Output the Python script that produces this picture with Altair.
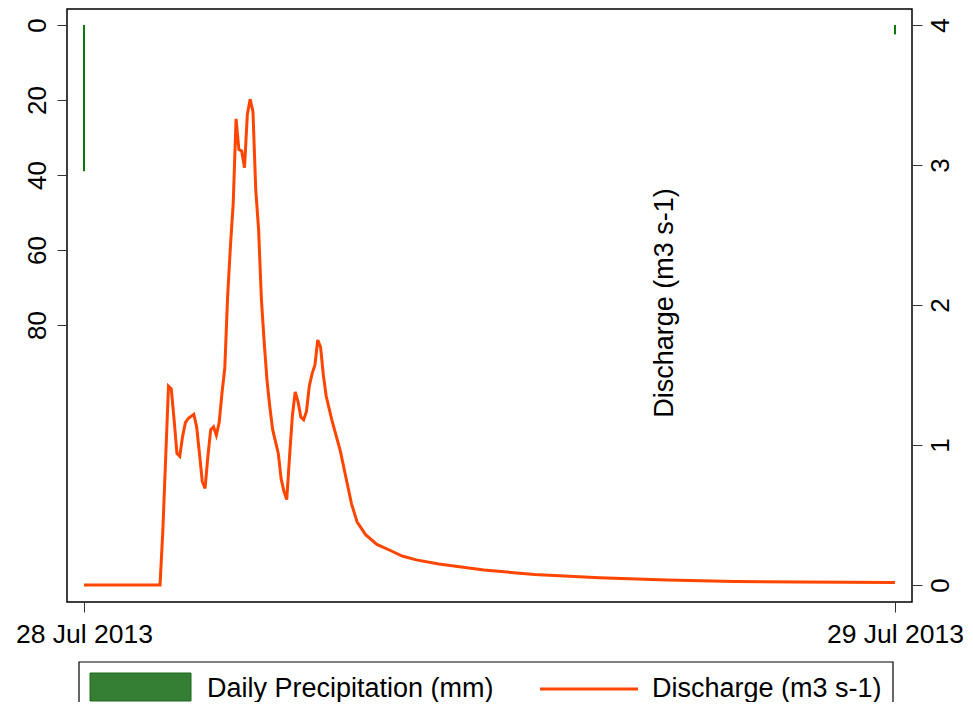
import altair as alt
import pandas as pd

FONT = "Liberation Sans"

# ---- data ----
precip_dates = ["2013-07-28T00:00:00", "2013-07-29T00:00:00"]
precip_mm = [39, 2.5]

q_times = [
    "2013-07-28T00:00", "2013-07-28T02:15", "2013-07-28T02:20", "2013-07-28T02:30",
    "2013-07-28T02:35", "2013-07-28T02:40", "2013-07-28T02:45", "2013-07-28T02:50",
    "2013-07-28T02:55", "2013-07-28T03:00", "2013-07-28T03:05", "2013-07-28T03:15",
    "2013-07-28T03:20", "2013-07-28T03:25", "2013-07-28T03:30", "2013-07-28T03:35",
    "2013-07-28T03:40", "2013-07-28T03:45", "2013-07-28T03:50", "2013-07-28T03:55",
    "2013-07-28T04:00", "2013-07-28T04:05", "2013-07-28T04:10", "2013-07-28T04:15",
    "2013-07-28T04:20", "2013-07-28T04:25", "2013-07-28T04:30", "2013-07-28T04:35",
    "2013-07-28T04:40", "2013-07-28T04:45", "2013-07-28T04:50", "2013-07-28T04:55",
    "2013-07-28T05:00", "2013-07-28T05:05", "2013-07-28T05:10", "2013-07-28T05:15",
    "2013-07-28T05:20", "2013-07-28T05:25", "2013-07-28T05:30", "2013-07-28T05:35",
    "2013-07-28T05:45", "2013-07-28T05:50", "2013-07-28T05:55", "2013-07-28T06:00",
    "2013-07-28T06:05", "2013-07-28T06:10", "2013-07-28T06:15", "2013-07-28T06:20",
    "2013-07-28T06:25", "2013-07-28T06:30", "2013-07-28T06:35", "2013-07-28T06:40",
    "2013-07-28T06:45", "2013-07-28T06:50", "2013-07-28T06:55", "2013-07-28T07:00",
    "2013-07-28T07:05", "2013-07-28T07:10", "2013-07-28T07:20", "2013-07-28T07:35",
    "2013-07-28T07:45", "2013-07-28T07:55", "2013-07-28T08:05", "2013-07-28T08:20",
    "2013-07-28T08:40", "2013-07-28T09:05", "2013-07-28T09:25", "2013-07-28T09:50",
    "2013-07-28T10:30", "2013-07-28T11:50", "2013-07-28T13:20", "2013-07-28T15:15",
    "2013-07-28T17:15", "2013-07-28T19:15", "2013-07-28T21:10", "2013-07-29T00:00",
]
q_values = [
    0.0, 0.0, 0.39, 1.42,
    1.40, 1.18, 0.94, 0.92,
    1.06, 1.16, 1.19, 1.22,
    1.13, 0.94, 0.74, 0.69,
    0.92, 1.11, 1.13, 1.07,
    1.16, 1.37, 1.55, 2.06,
    2.42, 2.73, 3.33, 3.11,
    3.10, 2.98, 3.36, 3.47,
    3.38, 2.82, 2.54, 2.04,
    1.73, 1.46, 1.27, 1.11,
    0.94, 0.76, 0.67, 0.61,
    0.92, 1.21, 1.38, 1.31,
    1.20, 1.18, 1.24, 1.42,
    1.51, 1.57, 1.75, 1.70,
    1.50, 1.35, 1.18, 0.96,
    0.77, 0.58, 0.45, 0.36,
    0.29, 0.245, 0.207, 0.18,
    0.15, 0.107, 0.076, 0.052,
    0.036, 0.026, 0.021, 0.019,
]

legend_labels = ["Daily Precipitation (mm)", "Discharge (m3 s-1)"]
axis_title_right = "Discharge (m3 s-1)"

precip_df = pd.DataFrame({"date": precip_dates, "precip": precip_mm, "base": [0] * len(precip_mm)})
q_df = pd.DataFrame({"date": q_times, "q": q_values})
dummy = pd.DataFrame({"a": [0]})

x_scale = alt.Scale(
    domain=[alt.DateTime(year=2013, month=7, date=27, hours=23, minutes=29, seconds=49),
            alt.DateTime(year=2013, month=7, date=29, hours=0, minutes=30, seconds=11)],
    nice=False,
)

common_axis = dict(labelFont=FONT, labelColor="black",
                   tickColor="#333333", tickWidth=1, tickSize=10,
                   domain=False, grid=False, title=None, labelOverlap=False)

x_axis = alt.Axis(
    values=[alt.DateTime(year=2013, month=7, date=28), alt.DateTime(year=2013, month=7, date=29)],
    format="%d %b %Y", labelFlush=False, labelPadding=9, labelFontSize=26.5, **common_axis,
)

precip = alt.Chart(precip_df).mark_rule(color="#0a7a0a", strokeWidth=2).encode(
    x=alt.X("date:T", scale=x_scale, axis=x_axis),
    y=alt.Y("precip:Q",
            scale=alt.Scale(domain=[-4.27, 153.9], reverse=True, nice=False, zero=False),
            axis=alt.Axis(orient="left", values=[0, 20, 40, 60, 80], labelAngle=270,
                          labelAlign="center", labelBaseline="alphabetic",
                          labelPadding=12, labelFontSize=26, **common_axis)),
    y2="base:Q",
)

discharge = alt.Chart(q_df).mark_line(color="#FF4500", strokeWidth=3).encode(
    x=alt.X("date:T", scale=x_scale, axis=x_axis),
    y=alt.Y("q:Q",
            scale=alt.Scale(domain=[-0.121, 4.114], nice=False, zero=False),
            axis=alt.Axis(orient="right", values=[0, 1, 2, 3, 4], labelAngle=270,
                          labelAlign="center", labelBaseline="top",
                          labelPadding=5, labelFontSize=26, **common_axis)),
)

inner_title = alt.Chart(dummy).mark_text(
    angle=270, fontSize=27, font=FONT, align="center", baseline="middle", color="black"
).encode(x=alt.value(598), y=alt.value(294), text=alt.value(axis_title_right))

legend_box = alt.Chart(dummy).mark_rect(fill="white", stroke="black", strokeWidth=1.2).encode(
    x=alt.value(12), x2=alt.value(826), y=alt.value(653), y2=alt.value(720))

legend_swatch = alt.Chart(dummy).mark_rect(fill="#347f34", stroke="#1f6b1f", strokeWidth=1).encode(
    x=alt.value(23), x2=alt.value(124), y=alt.value(664), y2=alt.value(692))

legend_line = alt.Chart(dummy).mark_rule(color="#FF4500", strokeWidth=3).encode(
    x=alt.value(473), x2=alt.value(571), y=alt.value(680))

legend_text1 = alt.Chart(dummy).mark_text(
    fontSize=27, font=FONT, align="left", baseline="middle", color="black"
).encode(x=alt.value(140), y=alt.value(680), text=alt.value(legend_labels[0]))

legend_text2 = alt.Chart(dummy).mark_text(
    fontSize=27, font=FONT, align="left", baseline="middle", color="black"
).encode(x=alt.value(585), y=alt.value(680), text=alt.value(legend_labels[1]))

chart = alt.layer(
    precip, discharge, inner_title,
    legend_box, legend_swatch, legend_line, legend_text1, legend_text2,
).resolve_scale(y="independent").properties(
    width=845, height=593,
    padding={"left": 59, "top": 1, "right": 53, "bottom": 100},
    autosize=alt.AutoSizeParams(type="none"),
).configure_view(stroke="black", strokeWidth=1.5)

chart.save("out.html", embed_options={"renderer": "svg", "actions": False})
